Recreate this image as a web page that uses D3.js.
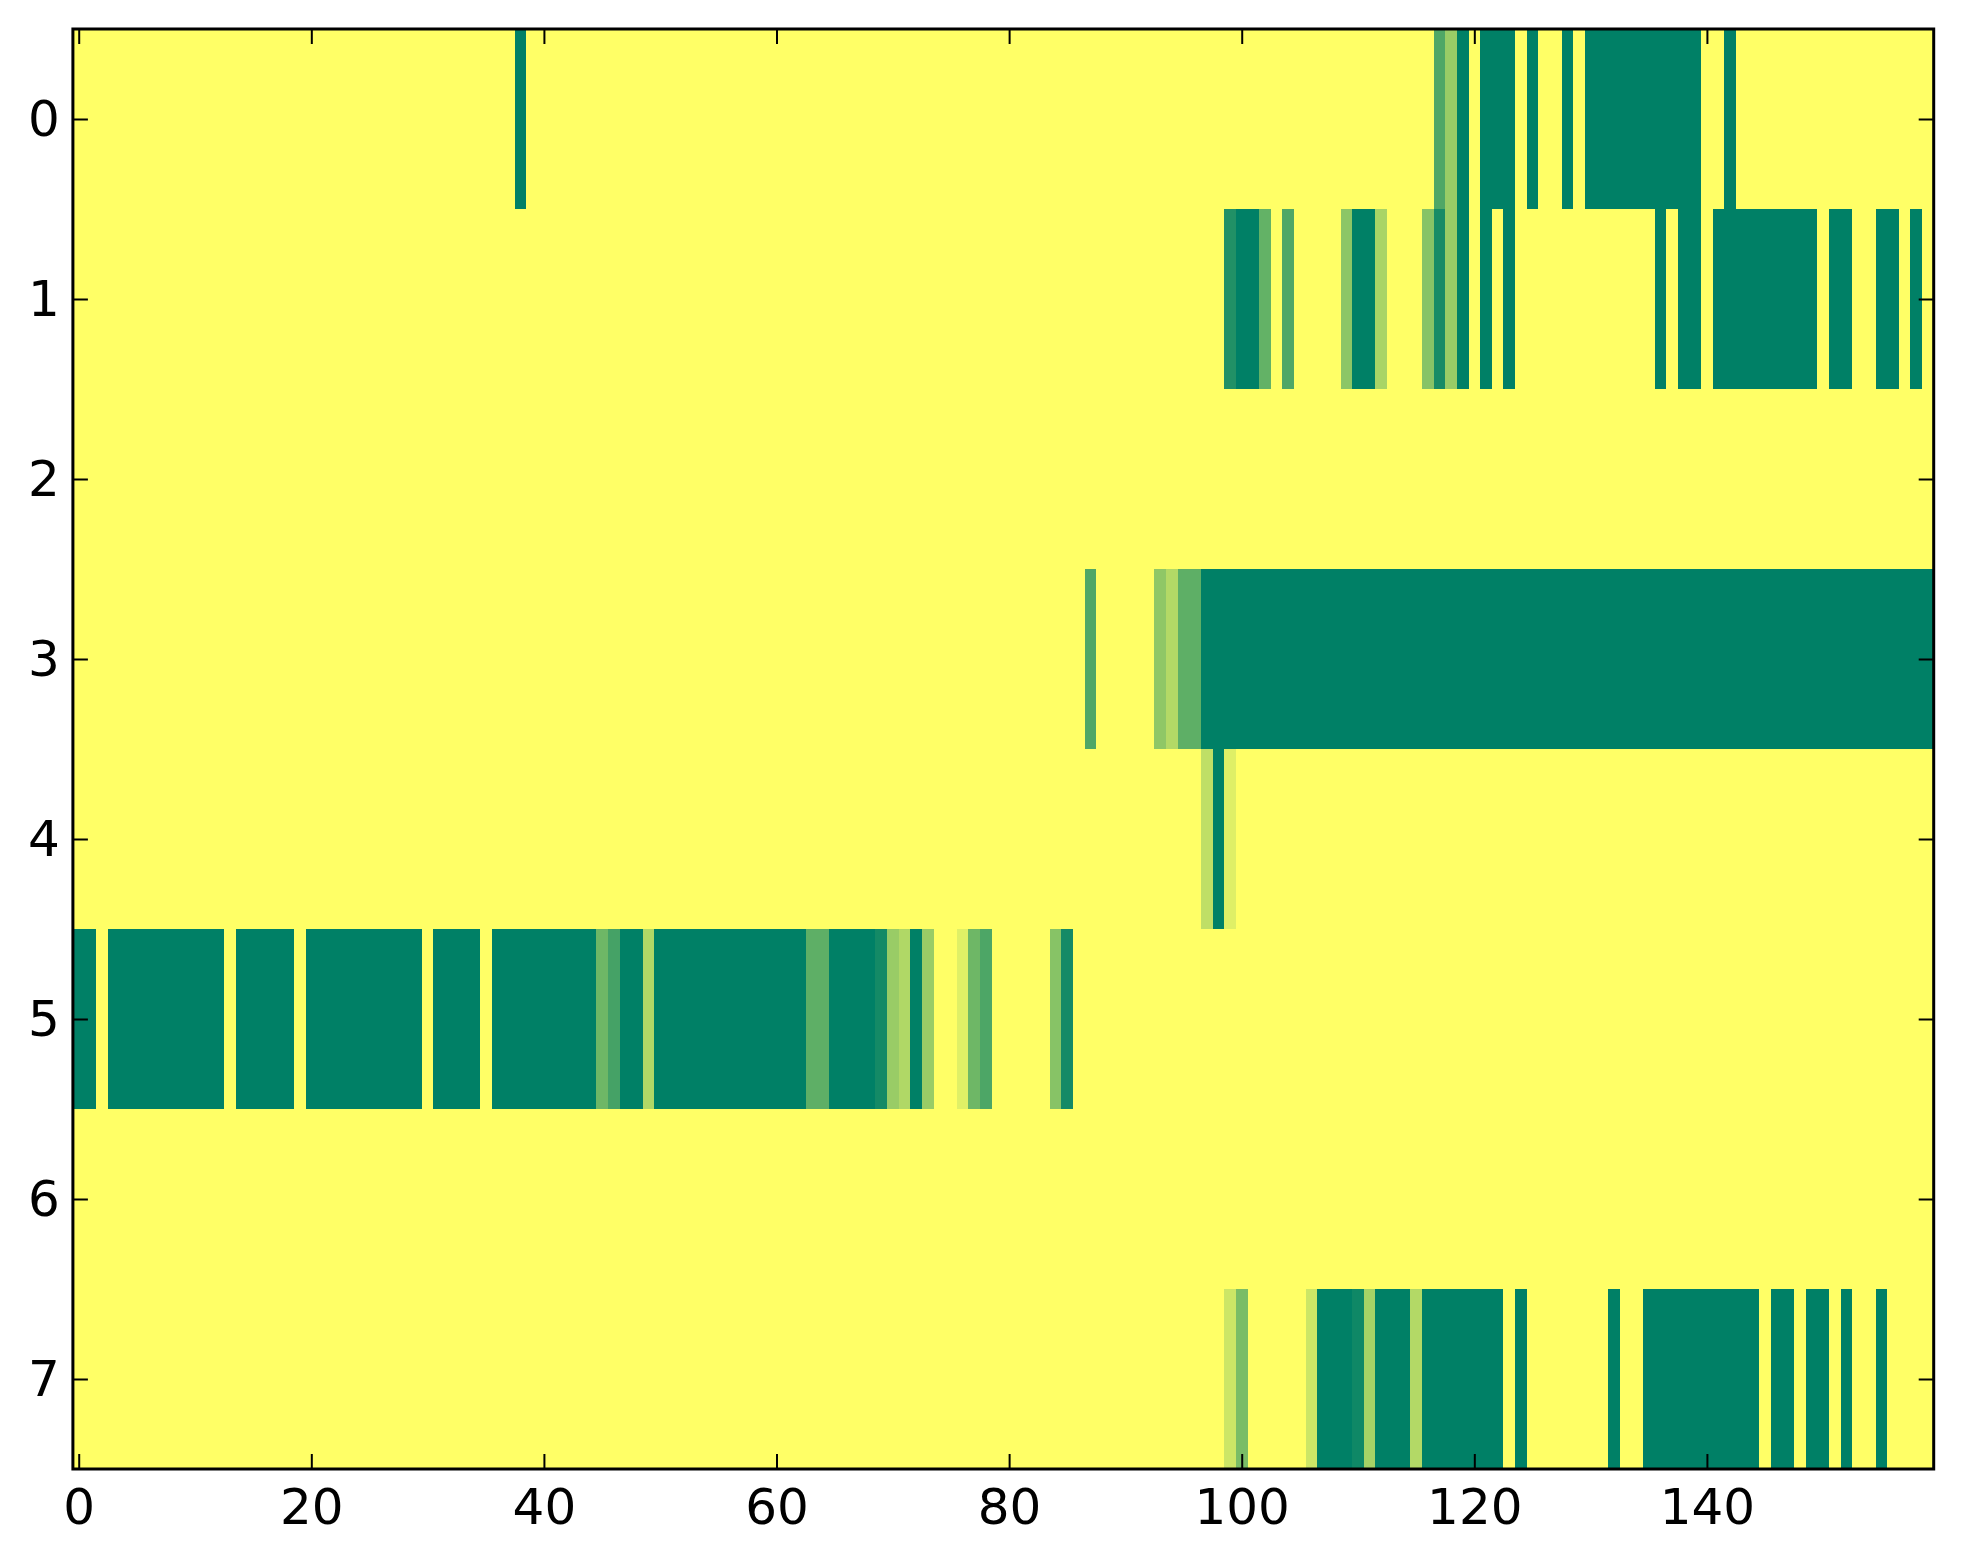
<!DOCTYPE html>
<html>
<head>
<meta charset="utf-8">
<script src="https://cdn.jsdelivr.net/npm/d3@7"></script>
<style>
  html, body { margin: 0; padding: 0; background: #ffffff; }
  svg { display: block; }
</style>
</head>
<body>
<svg id="chart" width="1963" height="1564"></svg>
<script>
// Row labels (y) and column indices (x)
const rowLabels = [0, 1, 2, 3, 4, 5, 6, 7];
const xTickValues = [0, 20, 40, 60, 80, 100, 120, 140];

// Cell values per row (0 = yellow, 1 = dark green), 160 columns each
const row0 = [
  0,0,0,0,0,0,0,0,0,0,0,0,0,0,0,0,0,0,0,0,
  0,0,0,0,0,0,0,0,0,0,0,0,0,0,0,0,0,0,1,0,
  0,0,0,0,0,0,0,0,0,0,0,0,0,0,0,0,0,0,0,0,
  0,0,0,0,0,0,0,0,0,0,0,0,0,0,0,0,0,0,0,0,
  0,0,0,0,0,0,0,0,0,0,0,0,0,0,0,0,0,0,0,0,
  0,0,0,0,0,0,0,0,0,0,0,0,0,0,0,0,0,.69,.4,1,
  0,1,1,1,0,1,0,0,1,0,1,1,1,1,1,1,1,1,1,1,
  0,0,1,0,0,0,0,0,0,0,0,0,0,0,0,0,0,0,0,0
];
const row1 = [
  0,0,0,0,0,0,0,0,0,0,0,0,0,0,0,0,0,0,0,0,
  0,0,0,0,0,0,0,0,0,0,0,0,0,0,0,0,0,0,0,0,
  0,0,0,0,0,0,0,0,0,0,0,0,0,0,0,0,0,0,0,0,
  0,0,0,0,0,0,0,0,0,0,0,0,0,0,0,0,0,0,0,0,
  0,0,0,0,0,0,0,0,0,0,0,0,0,0,0,0,0,0,0,.87,
  1,1,.61,0,.69,0,0,0,0,.45,1,1,.34,0,0,0,.47,.91,.4,1,
  0,1,0,1,0,0,0,0,0,0,0,0,0,0,0,0,1,0,1,1,
  0,1,1,1,1,1,1,1,1,1,0,1,1,0,0,1,1,0,1,0
];
const row2 = [
  0,0,0,0,0,0,0,0,0,0,0,0,0,0,0,0,0,0,0,0,
  0,0,0,0,0,0,0,0,0,0,0,0,0,0,0,0,0,0,0,0,
  0,0,0,0,0,0,0,0,0,0,0,0,0,0,0,0,0,0,0,0,
  0,0,0,0,0,0,0,0,0,0,0,0,0,0,0,0,0,0,0,0,
  0,0,0,0,0,0,0,0,0,0,0,0,0,0,0,0,0,0,0,0,
  0,0,0,0,0,0,0,0,0,0,0,0,0,0,0,0,0,0,0,0,
  0,0,0,0,0,0,0,0,0,0,0,0,0,0,0,0,0,0,0,0,
  0,0,0,0,0,0,0,0,0,0,0,0,0,0,0,0,0,0,0,0
];
const row3 = [
  0,0,0,0,0,0,0,0,0,0,0,0,0,0,0,0,0,0,0,0,
  0,0,0,0,0,0,0,0,0,0,0,0,0,0,0,0,0,0,0,0,
  0,0,0,0,0,0,0,0,0,0,0,0,0,0,0,0,0,0,0,0,
  0,0,0,0,0,0,0,0,0,0,0,0,0,0,0,0,0,0,0,0,
  0,0,0,0,0,0,0,.69,0,0,0,0,0,.44,.3,.63,.63,1,1,1,
  1,1,1,1,1,1,1,1,1,1,1,1,1,1,1,1,1,1,1,1,
  1,1,1,1,1,1,1,1,1,1,1,1,1,1,1,1,1,1,1,1,
  1,1,1,1,1,1,1,1,1,1,1,1,1,1,1,1,1,1,1,1
];
const row4 = [
  0,0,0,0,0,0,0,0,0,0,0,0,0,0,0,0,0,0,0,0,
  0,0,0,0,0,0,0,0,0,0,0,0,0,0,0,0,0,0,0,0,
  0,0,0,0,0,0,0,0,0,0,0,0,0,0,0,0,0,0,0,0,
  0,0,0,0,0,0,0,0,0,0,0,0,0,0,0,0,0,0,0,0,
  0,0,0,0,0,0,0,0,0,0,0,0,0,0,0,0,0,.25,1,.125,
  0,0,0,0,0,0,0,0,0,0,0,0,0,0,0,0,0,0,0,0,
  0,0,0,0,0,0,0,0,0,0,0,0,0,0,0,0,0,0,0,0,
  0,0,0,0,0,0,0,0,0,0,0,0,0,0,0,0,0,0,0,0
];
const row5 = [
  1,1,0,1,1,1,1,1,1,1,1,1,1,0,1,1,1,1,1,0,
  1,1,1,1,1,1,1,1,1,1,0,1,1,1,1,0,1,1,1,1,
  1,1,1,1,1,.57,.73,1,1,.31,1,1,1,1,1,1,1,1,1,1,
  1,1,1,.63,.63,1,1,1,1,.92,.4,.31,1,.4,0,0,.12,.57,.7,0,
  0,0,0,0,.47,.92,0,0,0,0,0,0,0,0,0,0,0,0,0,0,
  0,0,0,0,0,0,0,0,0,0,0,0,0,0,0,0,0,0,0,0,
  0,0,0,0,0,0,0,0,0,0,0,0,0,0,0,0,0,0,0,0,
  0,0,0,0,0,0,0,0,0,0,0,0,0,0,0,0,0,0,0,0
];
const row6 = [
  0,0,0,0,0,0,0,0,0,0,0,0,0,0,0,0,0,0,0,0,
  0,0,0,0,0,0,0,0,0,0,0,0,0,0,0,0,0,0,0,0,
  0,0,0,0,0,0,0,0,0,0,0,0,0,0,0,0,0,0,0,0,
  0,0,0,0,0,0,0,0,0,0,0,0,0,0,0,0,0,0,0,0,
  0,0,0,0,0,0,0,0,0,0,0,0,0,0,0,0,0,0,0,0,
  0,0,0,0,0,0,0,0,0,0,0,0,0,0,0,0,0,0,0,0,
  0,0,0,0,0,0,0,0,0,0,0,0,0,0,0,0,0,0,0,0,
  0,0,0,0,0,0,0,0,0,0,0,0,0,0,0,0,0,0,0,0
];
const row7 = [
  0,0,0,0,0,0,0,0,0,0,0,0,0,0,0,0,0,0,0,0,
  0,0,0,0,0,0,0,0,0,0,0,0,0,0,0,0,0,0,0,0,
  0,0,0,0,0,0,0,0,0,0,0,0,0,0,0,0,0,0,0,0,
  0,0,0,0,0,0,0,0,0,0,0,0,0,0,0,0,0,0,0,0,
  0,0,0,0,0,0,0,0,0,0,0,0,0,0,0,0,0,0,0,.2,
  .52,0,0,0,0,0,.2,1,1,1,.94,.35,1,1,1,.3,1,1,1,1,
  1,1,1,0,1,0,0,0,0,0,0,0,1,0,0,1,1,1,1,1,
  1,1,1,1,1,0,1,1,0,1,1,0,1,0,0,1,0,0,0,0
];

const rows = [row0, row1, row2, row3, row4, row5, row6, row7];
const nCols = row0.length;

// Layout
const plot = { left: 72.9, right: 1933.7, top: 29, bottom: 1469 };

const svg = d3.select("#chart");
svg.append("rect").attr("width", 1963).attr("height", 1564).attr("fill", "#ffffff");

const x = d3.scaleLinear().domain([-0.5, nCols - 0.5]).range([plot.left, plot.right]);
const y = d3.scaleLinear().domain([-0.5, rows.length - 0.5]).range([plot.top, plot.bottom]);

// summer_r colormap: 0 -> yellow, 1 -> dark green
const color = d3.scaleLinear().domain([0, 1]).range(["#ffff66", "#008066"]).interpolate(d3.interpolateRgb);

const cells = [];
rows.forEach((r, ri) => r.forEach((v, ci) => cells.push({ row: ri, col: ci, v })));

svg.append("g")
  .attr("shape-rendering", "crispEdges")
  .selectAll("rect")
  .data(cells)
  .join("rect")
  .attr("x", d => x(d.col - 0.5))
  .attr("y", d => y(d.row - 0.5))
  .attr("width", d => x(d.col + 0.5) - x(d.col - 0.5) + 0.6)
  .attr("height", d => y(d.row + 0.5) - y(d.row - 0.5) + 0.6)
  .attr("fill", d => color(d.v));

const font = "'DejaVu Sans', sans-serif";
const tickLen = 15;

function styleAxis(g) {
  g.select(".domain").remove();
  g.selectAll(".tick line").attr("stroke", "#000").attr("stroke-width", 2);
  g.selectAll(".tick text").attr("fill", "#000").style("font-family", font).style("font-size", "50px");
}

// Bottom axis with labels, inward ticks
svg.append("g")
  .attr("transform", `translate(0,${plot.bottom})`)
  .call(d3.axisBottom(x).tickValues(xTickValues).tickSizeInner(-tickLen).tickSizeOuter(0).tickPadding(19).tickFormat(d3.format("d")))
  .call(styleAxis);

// Top axis: ticks only
svg.append("g")
  .attr("transform", `translate(0,${plot.top})`)
  .call(d3.axisTop(x).tickValues(xTickValues).tickSizeInner(-tickLen).tickSizeOuter(0).tickFormat(""))
  .call(styleAxis);

// Left axis with labels
svg.append("g")
  .attr("transform", `translate(${plot.left},0)`)
  .call(d3.axisLeft(y).tickValues(rowLabels).tickSizeInner(-tickLen).tickSizeOuter(0).tickPadding(13).tickFormat(d3.format("d")))
  .call(styleAxis);

// Right axis: ticks only
svg.append("g")
  .attr("transform", `translate(${plot.right},0)`)
  .call(d3.axisRight(y).tickValues(rowLabels).tickSizeInner(-tickLen).tickSizeOuter(0).tickFormat(""))
  .call(styleAxis);

// Frame
svg.append("rect")
  .attr("x", plot.left)
  .attr("y", plot.top)
  .attr("width", plot.right - plot.left)
  .attr("height", plot.bottom - plot.top)
  .attr("fill", "none")
  .attr("stroke", "#000")
  .attr("stroke-width", 3);
</script>
</body>
</html>
